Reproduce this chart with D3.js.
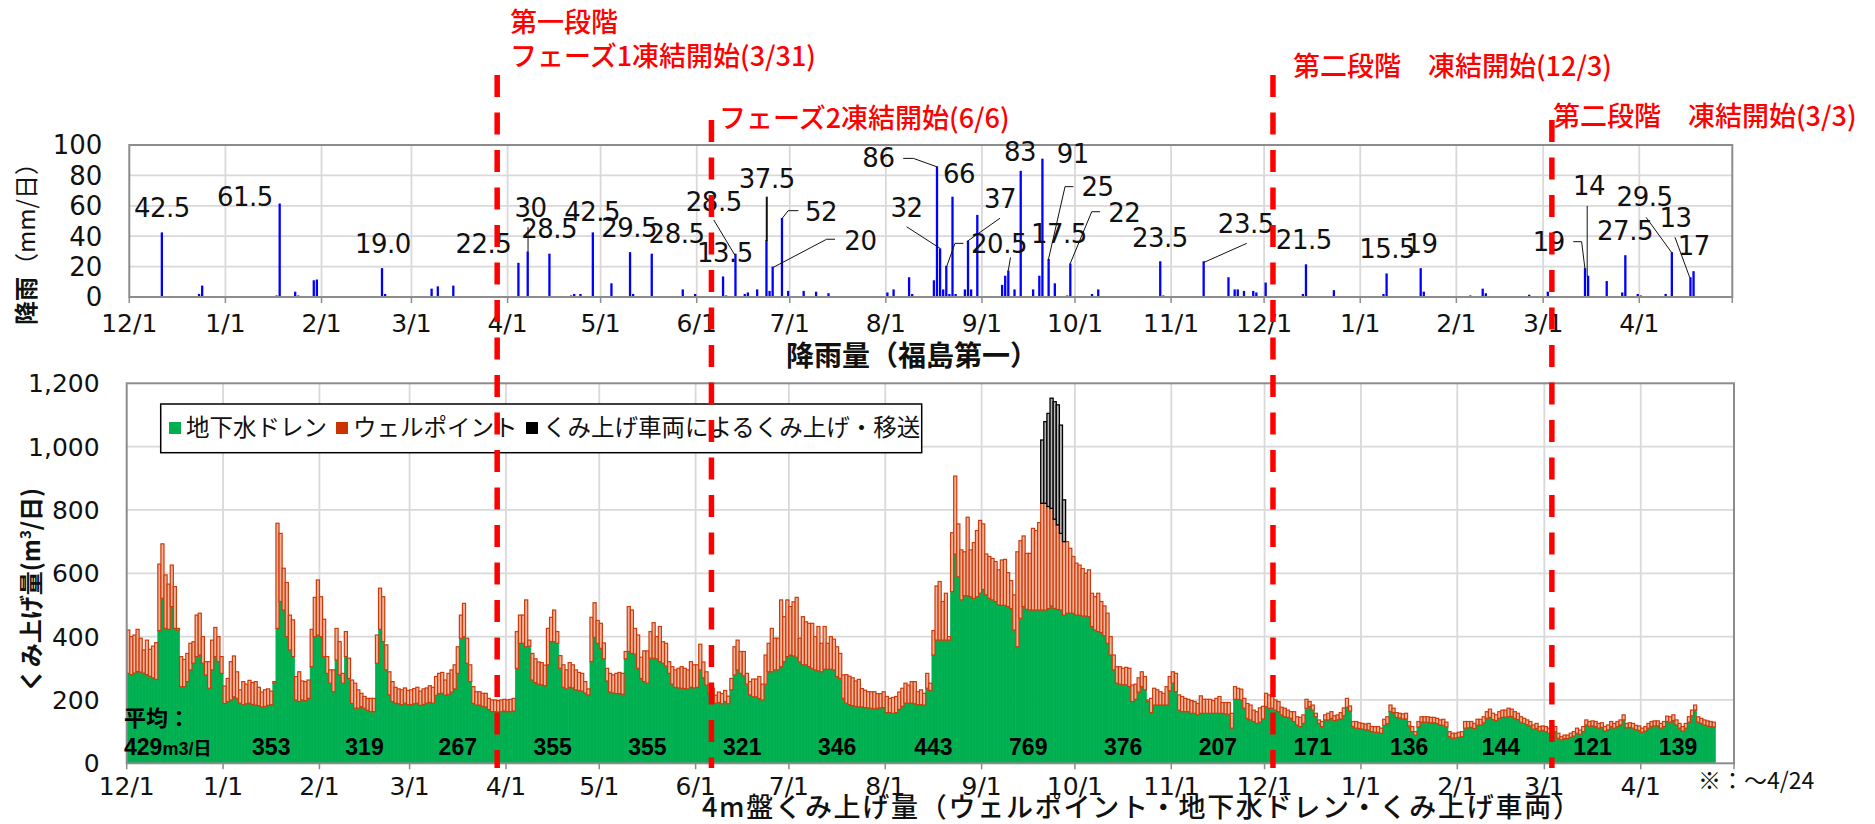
<!DOCTYPE html>
<html><head><meta charset="utf-8">
<script src="https://cdn.jsdelivr.net/npm/d3@7/dist/d3.min.js"></script>
<style>body{margin:0;background:#fff}svg{display:block}</style>
</head><body>
<svg id="chart" width="1875" height="824"></svg>
<script>
// ---------------- DATA ----------------
const startDate = "2015-12-01";
const axisEndDate = "2017-05-01";
const xTickLabels = ["12/1","1/1","2/1","3/1","4/1","5/1","6/1","7/1","8/1","9/1","10/1","11/1","12/1","1/1","2/1","3/1","4/1"];
const rainTicks = [0,20,40,60,80,100];
const pumpTicks = [0,200,400,600,800,1000,1200];

// daily rainfall (mm/day), Fukushima Daiichi (non-zero days)
const rainDates = ["2015-12-11","2015-12-23","2015-12-24","2016-01-17","2016-01-18","2016-01-23","2016-01-24","2016-01-29","2016-01-30","2016-02-06","2016-02-14","2016-02-20","2016-02-21","2016-03-07","2016-03-09","2016-03-14","2016-04-02","2016-04-04","2016-04-07","2016-04-14","2016-04-21","2016-04-22","2016-04-24","2016-04-28","2016-05-04","2016-05-10","2016-05-11","2016-05-17","2016-05-21","2016-05-27","2016-05-31","2016-06-09","2016-06-10","2016-06-13","2016-06-16","2016-06-17","2016-06-20","2016-06-23","2016-06-24","2016-06-25","2016-06-28","2016-06-30","2016-07-05","2016-07-09","2016-07-13","2016-07-24","2016-08-01","2016-08-03","2016-08-08","2016-08-09","2016-08-16","2016-08-17","2016-08-18","2016-08-19","2016-08-20","2016-08-21","2016-08-22","2016-08-23","2016-08-26","2016-08-27","2016-08-28","2016-08-30","2016-09-04","2016-09-07","2016-09-08","2016-09-09","2016-09-11","2016-09-13","2016-09-17","2016-09-19","2016-09-20","2016-09-22","2016-09-24","2016-09-28","2016-09-29","2016-10-06","2016-10-08","2016-10-17","2016-10-28","2016-10-29","2016-11-01","2016-11-11","2016-11-15","2016-11-19","2016-11-21","2016-11-22","2016-11-24","2016-11-27","2016-11-28","2016-12-01","2016-12-09","2016-12-13","2016-12-14","2016-12-23","2017-01-08","2017-01-09","2017-01-20","2017-01-21","2017-02-05","2017-02-09","2017-02-10","2017-02-24","2017-03-02","2017-03-14","2017-03-15","2017-03-21","2017-03-26","2017-03-27","2017-03-31","2017-04-01","2017-04-09","2017-04-11","2017-04-17","2017-04-18"];
const rainMm = [42.5,2,7.5,1,61.5,3.5,1,11,11.5,0.5,0.5,19,2,5.5,7,7.5,0.5,22.5,30,28.5,1,2,2,42.5,9,29.5,2,28.5,0.5,5,2,13.5,1,28.5,2,3,5,37.5,4,20,52,4,4,3.5,2.5,0.5,3,5,13,2,11,86,32,5,20.5,2,66,2,5,37,5,54,0.5,8,14,17.5,5,83,5,14,91,25,9,1,22,2,5,0.5,23.5,1,0.3,23.5,0.5,13,5,5,4,4,3,9.5,0.5,2,21.5,4.5,2,15.5,19,3.5,1,5.5,2.5,1.5,3.5,19,14,10.5,3,27.5,2,1,2,29.5,13,17];

// daily 4m-platform pumping (m3/day), one value per day from 2015-12-01 to 2017-04-24
// groundwater drain (green)
const drain = [
284,280,285,290,288,285,280,275,270,265,419,521,426,423,495,426,421,242,242,258,295,316,337,342,316,279,237,295,337,321,284,
189,195,200,210,205,190,185,188,190,186,184,182,178,180,183,185,253,426,511,484,400,358,337,200,195,200,198,205,305,400,405,
400,337,284,253,226,326,279,253,337,268,189,174,174,179,174,168,163,163,316,423,384,295,216,195,190,188,185,190,185,
185,188,190,183,186,190,192,190,215,220,221,215,218,225,235,284,395,400,316,258,189,184,184,180,178,170,163,163,162,163,165,
163,163,165,300,379,379,368,370,263,255,250,248,245,311,384,384,379,300,240,235,240,238,232,230,228,222,216,321,398,379,
363,330,260,225,222,220,220,218,330,353,347,345,300,268,258,253,332,332,330,321,316,307,284,250,240,238,237,236,235,240,238,
240,295,270,247,221,216,190,192,188,195,188,232,279,295,284,276,250,216,210,210,205,200,250,289,289,295,295,305,321,337,
342,339,335,320,311,311,305,300,295,292,289,297,297,297,295,274,268,205,190,185,182,180,178,178,176,175,174,172,174,175,176,
160,160,158,160,170,180,190,190,190,188,185,185,184,237,230,342,389,389,389,389,389,542,661,589,516,529,529,526,521,526,537,
549,532,521,516,511,500,499,499,495,489,421,368,458,495,486,484,484,484,484,484,484,489,497,489,486,484,468,474,474,474,
468,468,465,465,463,432,421,416,413,403,379,342,295,253,250,248,248,242,195,202,225,242,232,195,160,184,184,184,184,184,229,
253,226,168,163,163,163,158,158,153,158,158,158,158,158,158,158,158,156,155,111,202,202,200,174,142,137,132,126,130,140,
179,174,174,168,163,153,147,145,142,132,121,116,126,174,179,168,147,126,116,137,137,142,135,137,140,150,177,165,116,111,110,
108,106,105,100,98,98,95,120,125,163,160,145,143,140,140,118,100,89,115,130,130,130,128,128,126,121,120,115,84,79,80,
82,84,111,112,114,110,120,121,128,142,145,138,135,142,145,146,147,148,142,138,130,126,122,118,108,110,102,104,
100,95,92,100,79,74,78,78,82,86,95,92,100,121,117,118,116,111,113,102,106,116,111,116,121,137,112,113,111,106,104,
98,102,111,116,118,118,111,116,132,130,135,121,111,102,111,130,150,168,130,126,121,118,116,115];
// drain + well point (top of orange)
const drainPlusWellPoint = [
421,400,405,423,395,358,389,360,370,381,629,693,595,566,626,558,426,337,328,347,379,384,468,474,400,321,321,389,429,400,337,
244,268,321,339,289,232,258,250,262,255,258,240,225,232,235,228,258,758,726,616,571,468,453,274,289,260,258,263,423,524,579,
526,455,337,295,295,426,384,284,416,332,263,253,232,221,211,205,205,205,405,553,526,374,289,258,240,235,232,238,230,
232,236,240,228,235,238,245,240,274,284,287,263,284,295,311,368,468,505,395,311,242,226,226,221,221,205,200,200,198,200,202,
200,202,205,416,468,468,516,389,347,330,320,318,310,426,461,484,416,340,311,295,318,311,295,287,284,258,235,461,507,451,
442,380,300,284,279,284,287,284,353,495,484,426,405,335,355,355,416,444,400,432,384,379,321,305,295,300,305,300,295,321,311,
311,376,320,289,247,237,215,225,220,230,212,268,368,389,353,353,284,258,266,266,274,250,342,379,426,395,395,516,463,516,
495,510,524,395,463,447,442,442,400,432,379,432,379,400,392,368,347,279,280,275,270,260,265,236,231,226,226,226,220,220,226,
211,205,208,211,225,237,253,247,258,258,226,232,221,284,253,419,560,574,511,537,400,728,907,756,674,668,777,674,697,735,767,
756,661,653,647,637,611,642,644,602,577,532,668,703,718,663,663,742,735,760,821,821,811,805,771,753,726,700,700,679,653,
632,626,615,600,611,537,526,537,511,497,474,400,342,305,305,300,303,300,247,250,270,289,274,200,205,237,232,226,221,242,274,
289,284,216,211,205,202,198,195,189,213,202,202,202,198,205,211,192,192,192,158,242,237,234,205,189,184,168,163,175,180,
221,216,211,200,195,177,174,168,163,163,147,145,153,202,195,184,158,137,132,153,158,163,150,153,160,175,205,181,132,132,128,
126,124,126,116,116,116,111,139,147,184,174,160,158,156,158,132,116,100,132,147,147,147,145,145,142,137,139,130,100,95,95,
98,100,132,132,132,126,139,139,147,163,171,158,153,163,168,168,174,171,163,158,147,142,137,132,121,126,116,118,
116,111,105,116,95,84,89,89,95,100,111,105,116,137,132,134,132,126,128,116,121,132,126,132,137,153,126,128,126,120,118,
111,116,126,132,134,134,126,132,149,147,153,137,126,116,126,147,168,184,147,142,137,134,132,130];
// pumping by tank trucks (black)
const truckDates = ["2016-09-20","2016-09-21","2016-09-22","2016-09-23","2016-09-24","2016-09-25","2016-09-26","2016-09-27"];
const truckValues = [200,258,294,348,371,379,342,132];

// monthly averages
const avgMonths = ["2015-12","2016-01","2016-02","2016-03","2016-04","2016-05","2016-06","2016-07","2016-08","2016-09","2016-10","2016-11","2016-12","2017-01","2017-02","2017-03","2017-04"];
const avgValues = [429,353,319,267,355,355,321,346,443,769,376,207,171,136,144,121,139];

const seriesNames = ["地下水ドレン","ウェルポイント","くみ上げ車両によるくみ上げ・移送"];
const freezeLabels = ["第一段階","フェーズ1凍結開始(3/31)","フェーズ2凍結開始(6/6)","第二段階　凍結開始(12/3)","第二段階　凍結開始(3/3)"];
const freezeLineDates = ["2016-03-29T04","2016-06-06T02","2016-12-03T17","2017-03-03T10"];

// rainfall data-label annotations (text, anchor in day-offset / mm)
const rainLabelText = ["42.5","61.5","19.0","22.5","30","28.5","42.5","29.5","28.5","28.5","13.5","37.5","52","20","86","32","66","37","20.5","83","91","17.5","25","22","23.5","23.5","21.5","15.5","19","19","14","27.5","29.5","13","17"];
const rainLabelDay = [10.5,37.3,81.8,114.2,129.4,135.4,149.3,161.2,176.5,188.5,192.1,205.6,223.1,235.8,241.6,250.7,267.6,280.8,280.5,287.3,304.3,299.8,312.3,320.9,332.4,360.1,378.8,405.7,416.8,457.8,470.8,482.4,488.7,498.7,504.6];
const rainLabelMm = [52.4,59.9,28.7,29.2,52.8,38.6,50.2,39.3,35.3,56.8,23.2,71.5,50.2,30.9,85.3,52.4,75.2,58.3,28.7,89.7,88,35.7,66.4,49.5,33.1,42.3,31.4,25.4,28.7,30.5,67.1,37.5,59.9,46.3,27.6];
const rainLeaders = [
 [[128.6,46],[128.6,30]],
 [[188.5,50.7],[195.3,27.6]],
 [[205.6,66],[205.6,36.8]],
 [[215.8,56.8],[212.5,56.8],[210.6,51.8]],
 [[227.6,38],[224.9,38],[207.7,19.5]],
 [[249.6,91.2],[252.9,91.2],[260.4,85.7]],
 [[250.7,46.2],[261.5,32]],
 [[280.8,51.8],[270.1,36.4]],
 [[269,35.3],[266.3,35.3],[263.6,20]],
 [[304.5,72.6],[301.8,72.6],[296.4,24.3]],
 [[313.1,56.1],[310.4,56.1],[303.4,21.7]],
 [[360.4,35.3],[346.4,22.6]],
 [[284.2,26],[283.5,17.5]],
 [[465.7,36.4],[468.4,36.4],[469.5,18.2]],
 [[470.2,59.9],[470.2,13.4]],
 [[489.2,52.4],[497.5,29.1]],
 [[498.5,39.3],[503.3,12.7]]
];

// ---------------- CHART ----------------
const svg = d3.select("#chart");
const parseDay = d3.timeParse("%Y-%m-%d");
const parseMonth = d3.timeParse("%Y-%m");
const parseHour = d3.timeParse("%Y-%m-%dT%H");
const t0 = parseDay(startDate), tEnd = parseDay(axisEndDate);
const dayToDate = dd => new Date(+t0 + dd * 864e5);

const JP = "'Noto Sans CJK JP','Noto Sans CJK SC',sans-serif";
const NUM = "'DejaVu Sans',sans-serif";
const GRID = "#d9d9d9", BORDER = "#8c8c8c";

const xTop = d3.scaleTime().domain([t0, tEnd]).range([129.3, 1732.3]);
const yTop = d3.scaleLinear().domain([0, 100]).range([297, 145]);
const xBot = d3.scaleTime().domain([t0, tEnd]).range([126.7, 1734]);
const yBot = d3.scaleLinear().domain([0, 1200]).range([763.3, 383.3]);
const months = d3.timeMonth.range(t0, tEnd);

function drawFrame(x, y, ticks, fmt, tickFont, xLabelY) {
  const g = svg.append("g");
  const [x0, x1] = x.range(), [yb, yt] = y.range();
  g.selectAll(".hg").data(ticks.slice(1, -1)).join("line")
    .attr("x1", x0).attr("x2", x1).attr("y1", d => y(d)).attr("y2", d => y(d))
    .attr("stroke", GRID).attr("stroke-width", 1.8);
  g.selectAll(".vg").data(months.slice(1)).join("line")
    .attr("x1", d => x(d)).attr("x2", d => x(d)).attr("y1", yt).attr("y2", yb)
    .attr("stroke", GRID).attr("stroke-width", 1.8);
  g.selectAll(".tk").data(months.concat([tEnd])).join("line")
    .attr("x1", d => x(d)).attr("x2", d => x(d)).attr("y1", yb).attr("y2", yb + 6)
    .attr("stroke", BORDER).attr("stroke-width", 1.5);
  g.selectAll(".xl").data(months).join("text")
    .attr("x", d => x(d)).attr("y", xLabelY).attr("text-anchor", "middle")
    .attr("font-family", NUM).attr("font-size", 25).attr("fill", "#111")
    .text((d, i) => xTickLabels[i]);
  g.selectAll(".yl").data(ticks).join("text")
    .attr("x", x0 - 27).attr("y", d => y(d)).attr("dy", "0.36em")
    .attr("text-anchor", "end").attr("font-family", NUM).attr("font-size", tickFont).attr("fill", "#111")
    .text(fmt);
  return g;
}

// ---- top: rainfall ----
drawFrame(xTop, yTop, rainTicks, d => d, 26, 332);
svg.append("g").selectAll("rect").data(rainDates.map((s, i) => ({ d: parseDay(s), v: rainMm[i] }))).join("rect")
  .attr("x", r => (xTop(r.d) + xTop(d3.timeDay.offset(r.d, 1))) / 2 - 1.15)
  .attr("width", 2.3)
  .attr("y", r => yTop(r.v)).attr("height", r => yTop(0) - yTop(r.v))
  .attr("fill", "#0000ff");
svg.append("rect").attr("x", 129.3).attr("y", 145).attr("width", 1603).attr("height", 152)
  .attr("fill", "none").attr("stroke", BORDER).attr("stroke-width", 2);
// leaders + labels
const line = d3.line().x(p => xTop(dayToDate(p[0]))).y(p => yTop(p[1]));
svg.append("g").selectAll("path").data(rainLeaders).join("path")
  .attr("d", line).attr("fill", "none").attr("stroke", "#111")
  .attr("stroke-width", (d, i) => i === 2 ? 2 : 1);
svg.append("g").selectAll("text").data(rainLabelText).join("text")
  .attr("x", (d, i) => xTop(dayToDate(rainLabelDay[i])))
  .attr("y", (d, i) => yTop(rainLabelMm[i]))
  .attr("text-anchor", "middle").attr("font-family", NUM).attr("font-size", 26).attr("fill", "#111")
  .attr("letter-spacing", -0.5)
  .text(d => d);
svg.append("text").attr("x", 786).attr("y", 366).attr("font-family", JP).attr("font-size", 28)
  .attr("font-weight", 700).attr("fill", "#111").text("降雨量（福島第一）");
svg.append("text").attr("transform", "translate(35,238) rotate(-90)").attr("text-anchor", "middle")
  .attr("font-family", JP).attr("font-size", 24).attr("fill", "#111")
  .call(t => { t.append("tspan").attr("font-weight", 700).text("降雨"); t.append("tspan").text("（mm/日）"); });

// ---- bottom: pumping ----
drawFrame(xBot, yBot, pumpTicks, d3.format(","), 25, 795);
const truckMap = new Map(truckDates.map((s, i) => [s, truckValues[i]]));
const fmtDay = d3.timeFormat("%Y-%m-%d");
const table = drain.map((v, i) => {
  const d = d3.timeDay.offset(t0, i);
  return { date: d, drain: v, wellPoint: drainPlusWellPoint[i] - v, truck: truckMap.get(fmtDay(d)) || 0 };
});
const stack = d3.stack().keys(["drain", "wellPoint", "truck"])(table);
const styles = [
  { fill: "#00b050", stroke: "#00b050", sw: 0.7 },
  { fill: "#efb39b", stroke: "#cf3a08", sw: 1.2 },
  { fill: "#b5b5b5", stroke: "#000000", sw: 1.3 }
];
stack.forEach((layer, li) => {
  svg.append("g").selectAll("rect").data(layer.filter(s => s[1] - s[0] > 0)).join("rect")
    .attr("x", s => xBot(s.data.date))
    .attr("width", s => xBot(d3.timeDay.offset(s.data.date, 1)) - xBot(s.data.date))
    .attr("y", s => yBot(s[1]))
    .attr("height", s => yBot(s[0]) - yBot(s[1]))
    .attr("fill", styles[li].fill).attr("stroke", styles[li].stroke).attr("stroke-width", styles[li].sw);
});
svg.append("rect").attr("x", 126.7).attr("y", 383.3).attr("width", 1607.3).attr("height", 380)
  .attr("fill", "none").attr("stroke", BORDER).attr("stroke-width", 2);

// legend
const lg = svg.append("g");
lg.append("rect").attr("x", 160.7).attr("y", 404).attr("width", 761).attr("height", 48.7)
  .attr("fill", "#fff").attr("stroke", "#000").attr("stroke-width", 1.5);
const legendX = [169, 336, 526];
const legendColors = ["#00b050", "#cc3300", "#000000"];
seriesNames.forEach((n, i) => {
  lg.append("rect").attr("x", legendX[i]).attr("y", 422).attr("width", 12).attr("height", 12).attr("fill", legendColors[i]);
  lg.append("text").attr("x", legendX[i] + 17).attr("y", 428).attr("dy", "0.36em")
    .attr("font-family", JP).attr("font-size", 23.5).attr("fill", "#111").text(n);
});

// monthly averages
const avgG = svg.append("g").attr("font-family", "'Liberation Sans',Arial,sans-serif").attr("font-weight", 700).attr("fill", "#000");
const lastData = d3.timeDay.offset(t0, drain.length);
avgMonths.forEach((m, i) => {
  const ms = parseMonth(m), me = d3.min([d3.timeMonth.offset(ms, 1), lastData]);
  if (i === 0) {
    avgG.append("text").attr("x", 124).attr("y", 726).attr("font-family", JP).attr("font-size", 22).text("平均：");
    const t = avgG.append("text").attr("x", 124).attr("y", 755);
    t.append("tspan").attr("font-size", 23).text(avgValues[i]);
    t.append("tspan").attr("font-size", 18).text("m3/");
    t.append("tspan").attr("font-size", 18).attr("font-family", JP).text("日");
  } else {
    avgG.append("text").attr("x", (xBot(ms) + xBot(me)) / 2).attr("y", 755).attr("text-anchor", "middle")
      .attr("font-size", 23).text(avgValues[i]);
  }
});

svg.append("text").attr("transform", "translate(40,590) rotate(-90)").attr("text-anchor", "middle")
  .attr("font-family", JP).attr("font-size", 24).attr("font-weight", 700).attr("fill", "#111")
  .call(t => { t.append("tspan").text("くみ上げ量(m"); t.append("tspan").attr("font-size", 15).attr("dy", -9).text("3");
               t.append("tspan").attr("dy", 9).text("/日)"); });
svg.append("text").attr("x", 702).attr("y", 817).attr("font-family", JP).attr("font-size", 27)
  .attr("font-weight", 500).attr("fill", "#111").attr("textLength", 878).attr("lengthAdjust", "spacing")
  .text("4m盤くみ上げ量（ウェルポイント・地下水ドレン・くみ上げ車両）");
svg.append("text").attr("x", 1698).attr("y", 789).attr("font-family", JP).attr("font-size", 23)
  .attr("fill", "#111").text("※：～4/24");

// freeze lines and labels
const lineTops = [75, 120, 75, 120];
svg.append("g").selectAll("line").data(freezeLineDates).join("line")
  .attr("x1", d => xBot(parseHour(d))).attr("x2", d => xBot(parseHour(d)))
  .attr("y1", (d, i) => lineTops[i]).attr("y2", 768)
  .attr("stroke", "#ff0000").attr("stroke-width", 5.5).attr("stroke-dasharray", "22,15.5");
const labelPos = [[510, 32], [510, 66], [719, 128], [1293, 76], [1553, 126]];
svg.append("g").selectAll("text").data(freezeLabels).join("text")
  .attr("x", (d, i) => labelPos[i][0]).attr("y", (d, i) => labelPos[i][1])
  .attr("font-family", JP).attr("font-size", 27).attr("font-weight", 500).attr("fill", "#ff0000")
  .text(d => d);
</script>
</body></html>
